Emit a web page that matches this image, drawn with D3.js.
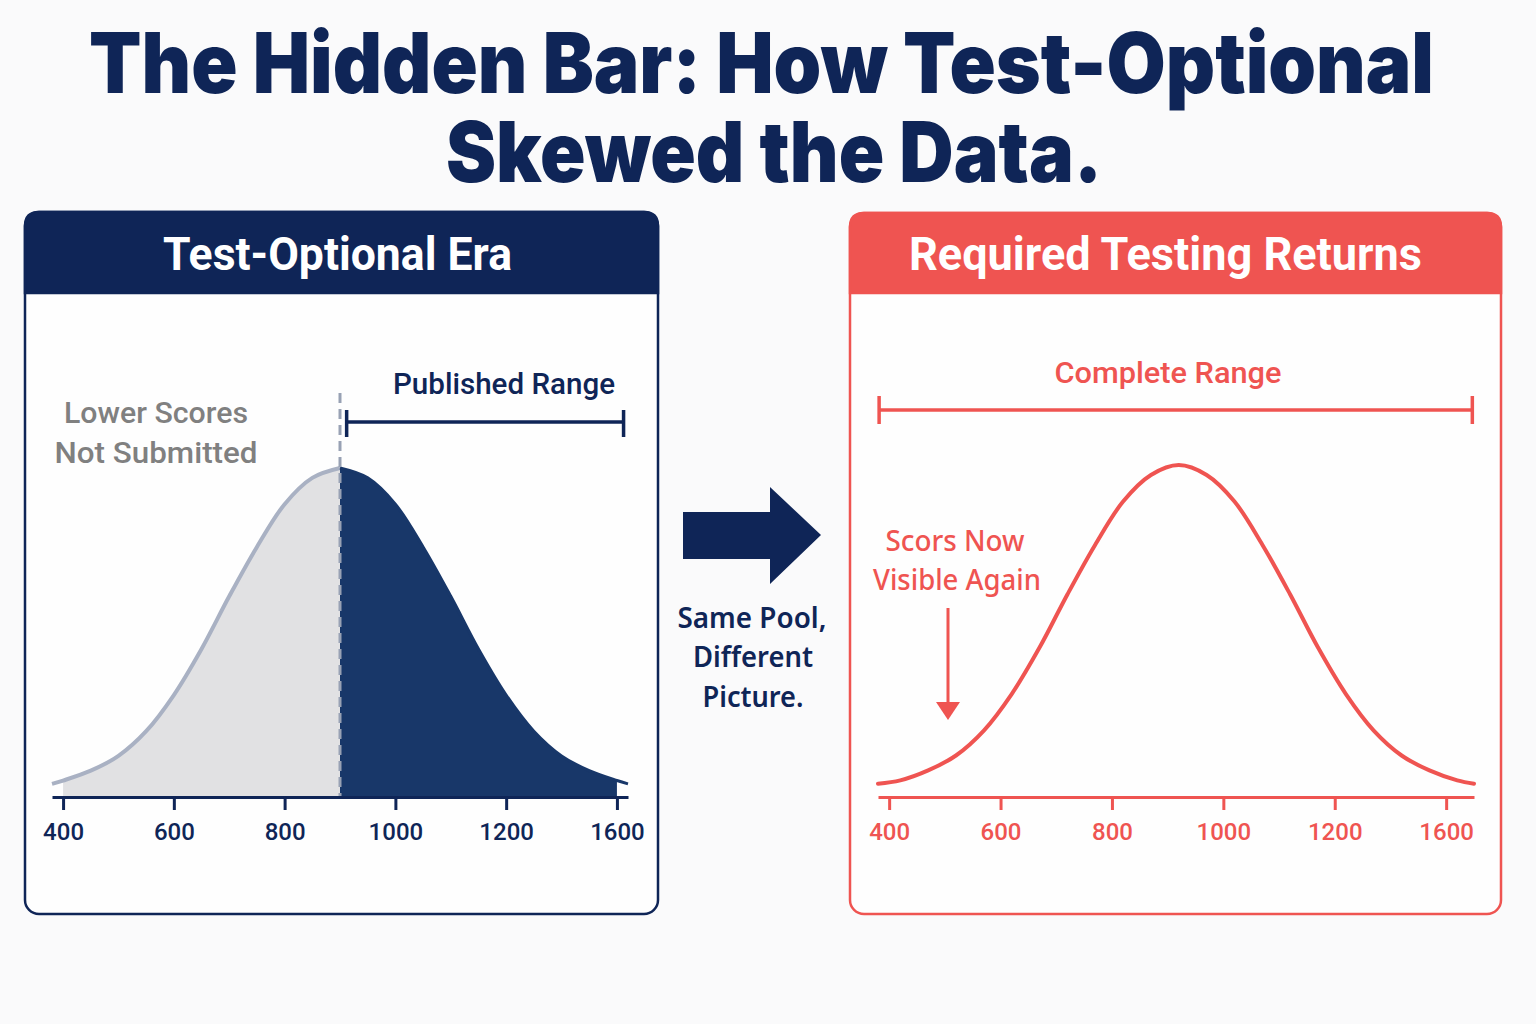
<!DOCTYPE html>
<html>

<head>
    <meta charset="utf-8">
    <script src="https://d3js.org/d3.v7.min.js"></script>
    <style>
        body { margin: 0; background: #fafafb; }
        text { font-family: Roboto, "Noto Sans", sans-serif; }
    </style>
</head>

<body>
    <svg id="chart"></svg>

    <script>
        // ---- data ----
        var tickValues = [400, 600, 800, 1000, 1200, 1400];
        var tickLabels = ["400", "600", "800", "1000", "1200", "1600"];

        // left panel: score distribution while tests were optional (relative height, peak = 100)
        var optionalScores = [380, 400, 450, 500, 550, 600, 650, 700, 750, 800, 850, 900,
            950, 1000, 1050, 1100, 1150, 1200, 1250, 1300, 1350, 1400, 1420];
        var optionalHeights = [4, 5, 8, 12.5, 20, 31, 45, 61, 76, 89, 97, 100,
            97, 89, 76, 61, 45, 31, 20, 12.5, 8, 5, 4];
        var cutoffScore = 900;
        var publishedRange = [912, 1412];

        // right panel: full distribution once testing is required
        var requiredScores = [380, 420, 470, 520, 570, 620, 670, 720, 770, 820, 870, 920,
            970, 1020, 1070, 1120, 1170, 1220, 1270, 1320, 1370, 1420, 1450];
        var requiredHeights = [4, 5, 8, 12.5, 20, 31, 45, 61, 76, 89, 97, 100,
            97, 89, 76, 61, 45, 31, 20, 12.5, 8, 5, 4];
        var completeRange = [382, 1447];

        var navy = "#0f2557",
            navyFill = "#183769",
            red = "#ef5451",
            grey = "#a9b1c3";

        var width = 1536, height = 1024;

        var svg = d3.select("#chart")
            .attr("width", width)
            .attr("height", height);

        // helper: text squeezed/stretched to the width it has in the picture
        function label(x, y, str, size, weight, color, len, anchor) {
            var t = svg.append("text")
                .attr("x", x)
                .attr("y", y)
                .text(str)
                .style("font-size", size + "px")
                .style("font-weight", weight)
                .attr("fill", color)
                .attr("text-anchor", anchor || "middle")
            if (len) t.attr("textLength", len).attr("lengthAdjust", "spacingAndGlyphs")
            return t
        }

        // title
        label(89, 93, "The Hidden Bar: How Test-Optional", 84, 900, navy, 1345, "start")
            .style("font-family", "Inter, Roboto, sans-serif")
        label(446, 182, "Skewed the Data.", 84, 900, navy, 656, "start")
            .style("font-family", "Inter, Roboto, sans-serif")

        // panel boxes with coloured header band
        function panel(x0, y0, x1, y1, headBottom, color, title, tx, tlen) {
            var r = 14
            svg.append("rect")
                .attr("x", x0).attr("y", y0)
                .attr("width", x1 - x0).attr("height", y1 - y0)
                .attr("rx", r)
                .attr("fill", "#fefefe")
                .attr("stroke", color)
                .attr("stroke-width", 2.5)
            svg.append("path")
                .attr("d", "M" + x0 + "," + headBottom +
                    " L" + x0 + "," + (y0 + r) +
                    " Q" + x0 + "," + y0 + " " + (x0 + r) + "," + y0 +
                    " L" + (x1 - r) + "," + y0 +
                    " Q" + x1 + "," + y0 + " " + x1 + "," + (y0 + r) +
                    " L" + x1 + "," + headBottom + " Z")
                .attr("fill", color)
                .attr("stroke", color)
                .attr("stroke-width", 2.5)
            label(tx, 270, title, 46, 700, "#ffffff", tlen, "start")
        }

        panel(25, 212, 658, 914, 293, navy, "Test-Optional Era", 163, 349)
        panel(850, 213, 1501, 914, 293, red, "Required Testing Returns", 909, 513)

        // ---- left panel ----
        var xL = d3.scaleLinear().domain([380, 1420]).range([52, 628]);
        var yL = d3.scaleLinear().domain([0, 100]).range([797, 468]);

        var leftPts = optionalScores.map(function (s, i) { return { s: s, h: optionalHeights[i] } });

        var areaL = d3.area()
            .x(function (d) { return xL(d.s) })
            .y0(yL(0))
            .y1(function (d) { return yL(d.h) })
            .curve(d3.curveCatmullRom);
        var lineL = d3.line()
            .x(function (d) { return xL(d.s) })
            .y(function (d) { return yL(d.h) })
            .curve(d3.curveCatmullRom);

        // hidden (not submitted) part
        svg.append("path")
            .datum(leftPts.filter(function (d) { return d.s >= 400 && d.s <= cutoffScore }))
            .attr("d", areaL)
            .attr("fill", "#e1e1e3")
        svg.append("path")
            .datum(leftPts.filter(function (d) { return d.s <= cutoffScore }))
            .attr("d", lineL)
            .attr("fill", "none")
            .attr("stroke", grey)
            .attr("stroke-width", 4)
        // submitted part
        svg.append("path")
            .datum(leftPts.filter(function (d) { return d.s >= cutoffScore && d.s <= 1400 }))
            .attr("d", areaL)
            .attr("fill", navyFill)
        svg.append("path")
            .datum(leftPts.filter(function (d) { return d.s >= cutoffScore }))
            .attr("d", lineL)
            .attr("fill", "none")
            .attr("stroke", navyFill)
            .attr("stroke-width", 3)

        // cutoff line
        svg.append("line")
            .attr("x1", xL(cutoffScore)).attr("x2", xL(cutoffScore))
            .attr("y1", 393).attr("y2", 797)
            .attr("stroke", "#98a1b4")
            .attr("stroke-width", 3)
            .attr("stroke-dasharray", "10,6")

        // axis
        var axisL = svg.append("g")
            .attr("transform", "translate(0,797)")
            .call(d3.axisBottom(xL)
                .tickValues(tickValues)
                .tickFormat(function (d, i) { return tickLabels[i] })
                .tickSize(13)
                .tickSizeOuter(0)
                .tickPadding(13))
        axisL.selectAll("path, line").attr("stroke", navy).attr("stroke-width", 3)
        axisL.selectAll("text")
            .attr("fill", navy)
            .style("font-size", "24px")
            .style("font-weight", 500)
            .style("font-family", "Roboto, sans-serif")

        // range brackets
        function bracket(range, scale, y, color, capTop, capBottom) {
            var g = svg.append("g").attr("stroke", color).attr("stroke-width", 3.5)
            g.append("line").attr("x1", scale(range[0])).attr("x2", scale(range[1])).attr("y1", y).attr("y2", y)
            range.forEach(function (v) {
                g.append("line").attr("x1", scale(v)).attr("x2", scale(v)).attr("y1", capTop).attr("y2", capBottom)
            })
        }
        bracket(publishedRange, xL, 422, navy, 410, 437)
        label(504, 394, "Published Range", 29, 500, navy, 222)

        label(156, 423, "Lower Scores", 30, 500, "#808080", 184)
        label(156, 463, "Not Submitted", 30, 500, "#808080", 203)

        // ---- middle arrow ----
        svg.append("path")
            .attr("d", "M683,512 L770,512 L770,487 L821,535 L770,584 L770,559 L683,559 Z")
            .attr("fill", navy)
        label(752, 628, "Same Pool,", 29, 600, navy, 149).style("font-family", "'Noto Sans', sans-serif")
        label(753, 667, "Different", 29, 600, navy, 120).style("font-family", "'Noto Sans', sans-serif")
        label(753, 707, "Picture.", 29, 600, navy, 101).style("font-family", "'Noto Sans', sans-serif")

        // ---- right panel ----
        var xR = d3.scaleLinear().domain([380, 1450]).range([878, 1474]);
        var yR = d3.scaleLinear().domain([0, 100]).range([797, 465]);

        var rightPts = requiredScores.map(function (s, i) { return { s: s, h: requiredHeights[i] } });

        svg.append("path")
            .datum(rightPts)
            .attr("d", d3.line()
                .x(function (d) { return xR(d.s) })
                .y(function (d) { return yR(d.h) })
                .curve(d3.curveCatmullRom))
            .attr("fill", "none")
            .attr("stroke", red)
            .attr("stroke-width", 4)
            .attr("stroke-linecap", "round")

        var axisR = svg.append("g")
            .attr("transform", "translate(0,797)")
            .call(d3.axisBottom(xR)
                .tickValues(tickValues)
                .tickFormat(function (d, i) { return tickLabels[i] })
                .tickSize(13)
                .tickSizeOuter(0)
                .tickPadding(13))
        axisR.selectAll("path, line").attr("stroke", red).attr("stroke-width", 3)
        axisR.selectAll("text")
            .attr("fill", red)
            .style("font-size", "24px")
            .style("font-weight", 500)
            .style("font-family", "Roboto, sans-serif")

        bracket(completeRange, xR, 410, red, 396, 424)
        label(1168, 383, "Complete Range", 30, 500, red, 227)

        label(955, 551, "Scors Now", 29, 500, red, 139).style("font-family", "'Noto Sans', sans-serif")
        label(957, 590, "Visible Again", 29, 500, red, 168).style("font-family", "'Noto Sans', sans-serif")

        svg.append("line")
            .attr("x1", 948).attr("x2", 948)
            .attr("y1", 608).attr("y2", 704)
            .attr("stroke", red)
            .attr("stroke-width", 3)
        svg.append("path")
            .attr("d", "M936,702 L960,702 L948,720 Z")
            .attr("fill", red)

    </script>
</body>

</html>
